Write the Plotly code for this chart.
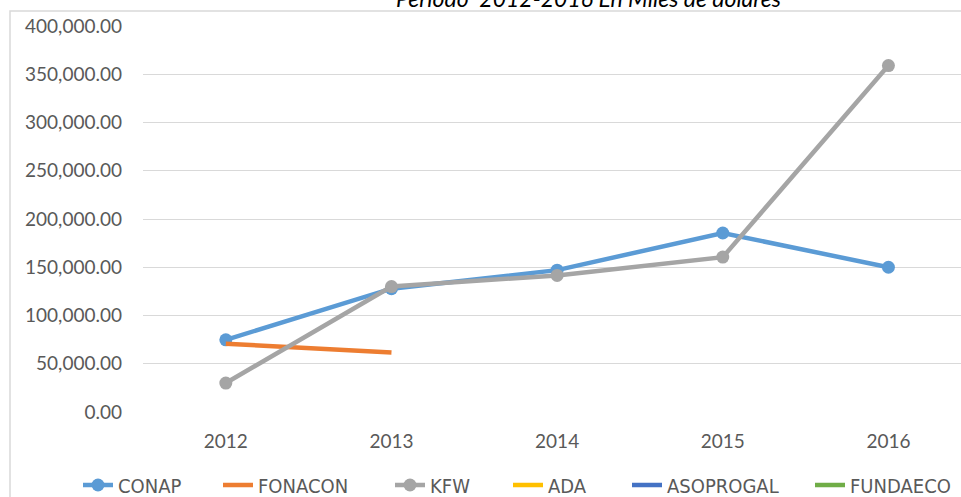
import plotly.graph_objects as go

years = ["2012", "2013", "2014", "2015", "2016"]
conap = [74800, 127800, 147000, 185500, 150000]
fonacon = [70700, 61700, None, None, None]
kfw = [30000, 130000, 141500, 160500, 359000]
ada = [None, None, None, None, None]
asoprogal = [None, None, None, None, None]
fundaeco = [None, None, None, None, None]

y_ticks = [0, 50000, 100000, 150000, 200000, 250000, 300000, 350000, 400000]
title_text = "Periodo  2012-2016 En Miles de dolares"

series = [
    ("CONAP", conap, "#5B9BD5", True),
    ("FONACON", fonacon, "#ED7D31", False),
    ("KFW", kfw, "#A5A5A5", True),
    ("ADA", ada, "#FFC000", False),
    ("ASOPROGAL", asoprogal, "#4472C4", False),
    ("FUNDAECO", fundaeco, "#70AD47", False),
]
# pixel x where each legend entry's text starts
legend_text_x = [118, 258, 430, 548, 667, 850]

W, H = 961, 497
L, T, B = 143, 26, 85
pw, ph = W - L, H - T - B
y0px = H - B

legend_font = dict(family="Liberation Sans Narrow, DejaVu Sans Condensed, sans-serif",
                   size=20, color="#595959")

fig = go.Figure()
layout_legends = {}
for i, (name, vals, color, mk) in enumerate(series):
    lname = "legend" if i == 0 else f"legend{i + 1}"
    fig.add_trace(go.Scatter(
        x=years, y=vals, name=name,
        mode="lines+markers" if mk else "lines",
        line=dict(color=color, width=4.5),
        marker=dict(color=color, size=13),
        connectgaps=False, legend=lname, showlegend=True,
    ))
    layout_legends[lname] = dict(
        orientation="h", x=(legend_text_x[i] - 40 - L) / pw, xanchor="left",
        y=(y0px - 485) / ph, yanchor="middle",
        font=legend_font, bgcolor="rgba(0,0,0,0)")

fig.update_layout(
    width=W, height=H,
    margin=dict(l=L, r=0, t=T, b=B, autoexpand=False),
    paper_bgcolor="white", plot_bgcolor="white",
    font=dict(family="Lato, sans-serif", color="#595959", size=19),
    showlegend=True,
    xaxis=dict(type="category", range=[-0.5, -0.5 + pw / 165.65],
               showgrid=False, zeroline=False, showline=False,
               ticks="", ticklabelstandoff=16,
               tickfont=dict(size=19, color="#595959")),
    yaxis=dict(range=[0, 400000], tickvals=y_ticks, tickformat=",.2f",
               showgrid=True, gridcolor="#D9D9D9", gridwidth=1,
               zeroline=False, showline=False, ticks="",
               ticklabelstandoff=20,
               tickfont=dict(size=19, color="#595959")),
    annotations=[dict(text="<i>" + title_text + "</i>", xref="paper", yref="paper",
                      x=(588 - L) / pw, xanchor="center",
                      y=(y0px + 2) / ph, yanchor="middle", showarrow=False,
                      font=dict(family="Lato, sans-serif", size=23, color="#000000"))],
    shapes=[dict(type="rect", xref="paper", yref="paper",
                 x0=(10 - L) / pw, x1=1.05, y0=-0.5, y1=(y0px - 11) / ph,
                 line=dict(color="#D9D9D9", width=1.5), fillcolor="rgba(0,0,0,0)",
                 layer="below")],
    **layout_legends,
)

fig.write_html("out.html", config={"displayModeBar": False},
               post_script="document.body.style.margin='0';document.body.style.overflow='hidden';")
